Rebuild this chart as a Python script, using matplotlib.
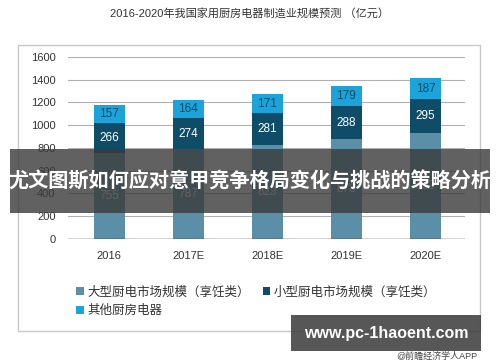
import numpy as np
import matplotlib
matplotlib.use('Agg')
import matplotlib.pyplot as plt
from matplotlib.patches import Rectangle

plt.rcParams['font.family'] = ['Liberation Sans', 'Noto Sans CJK SC', 'DejaVu Sans']

# dane
lata = ['2016', '2017E', '2018E', '2019E', '2020E']
duze = [755, 787, 823, 878, 932]
male = [266, 274, 281, 288, 295]
inne = [157, 164, 171, 179, 187]
nazwy = ['大型厨电市场规模（享饪类）', '小型厨电市场规模（享饪类）', '其他厨房电器']
kolory = ['#5b8fa8', '#0e4c68', '#1ba3da']

fig = plt.figure(figsize=(5, 3.62), dpi=100)
fig.patch.set_facecolor('white')

# ramka wykresu
fig.patches.append(Rectangle((0.036, 0.086), 0.924, 0.79, transform=fig.transFigure,
                             fill=False, edgecolor='#c8c8c8', linewidth=1.0))

ax = fig.add_axes([0.136, 0.34, 0.794, 0.503])
x = np.arange(len(lata))
w = 0.39
d = np.array(duze)
m = np.array(male)
b1 = ax.bar(x, d, w, color=kolory[0], label=nazwy[0], zorder=3)
b2 = ax.bar(x, m, w, bottom=d, color=kolory[1], label=nazwy[1], zorder=3)
b3 = ax.bar(x, inne, w, bottom=d + m, color=kolory[2], label=nazwy[2], zorder=3)

for i in range(len(lata)):
    ax.text(x[i], d[i] / 2, str(duze[i]), ha='center', va='center', color='white', fontsize=8.5, zorder=4)
    ax.text(x[i], d[i] + m[i] / 2, str(male[i]), ha='center', va='center', color='white', fontsize=8.5, zorder=4)
    ax.text(x[i], d[i] + m[i] + inne[i] / 2, str(inne[i]), ha='center', va='center', color='#0e4c68', fontsize=8.5, zorder=4)

ax.set_xlim(-0.52, 4.5)
ax.set_ylim(0, 1600)
ax.set_yticks(np.arange(0, 1601, 200))
ax.set_xticks(x)
ax.set_xticklabels(lata)
ax.yaxis.grid(True, color='#b0b0b0', linewidth=0.8, zorder=0)
ax.axhline(0, color='#333333', linewidth=1.0, zorder=4)
for s in ax.spines.values():
    s.set_visible(False)
ax.tick_params(length=0, labelsize=8, colors='#333333')
ax.tick_params(axis='y', pad=9)
ax.tick_params(axis='x', pad=9)

# kolejnosc wierszami: b1 b2 / b3
ax.legend(handles=[b1, b3, b2], ncol=2, loc='upper left', bbox_to_anchor=(0.13, 0.24),
          bbox_transform=fig.transFigure, frameon=False, fontsize=9,
          handlelength=0.6, handleheight=0.6, handletextpad=0.3, columnspacing=1.0,
          labelspacing=0.5, labelcolor='#333333')

fig.text(0.5, 0.962, '2016-2020年我国家用厨房电器制造业规模预测 （亿元）', ha='center', va='center',
         fontsize=8, color='#333333')

# nakladki
fig.patches.append(Rectangle((0.02, 0.412), 0.96, 0.177, transform=fig.transFigure,
                             facecolor='#3a3a3a', alpha=0.8, edgecolor='none', zorder=10))
fig.text(0.5, 0.5, '尤文图斯如何应对意甲竞争格局变化与挑战的策略分析', ha='center', va='center',
         fontsize=14.5, color='white', fontweight='bold', zorder=11)

fig.patches.append(Rectangle((0.582, 0.03), 0.38, 0.1, transform=fig.transFigure,
                             facecolor='#3a3a3a', alpha=0.85, edgecolor='none', zorder=10))
fig.text(0.772, 0.078, 'www.pc-1haoent.com', ha='center', va='center',
         fontsize=11.5, color='white', fontweight='bold', zorder=11)
fig.text(0.955, 0.003, '@前瞻经济学人APP', ha='right', va='bottom',
         fontsize=6.5, color='#444444', zorder=12)

plt.savefig('out.png', dpi=100)
